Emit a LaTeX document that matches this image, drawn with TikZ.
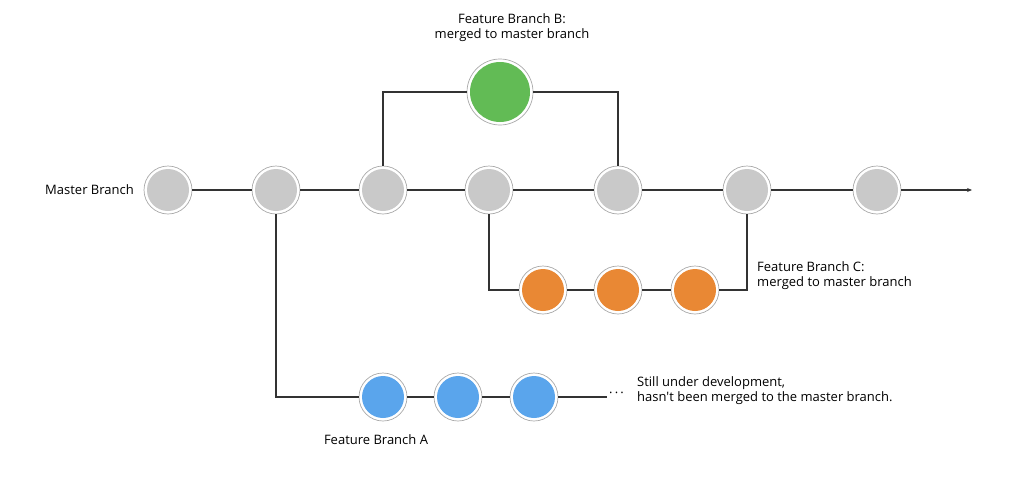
\documentclass[tikz,border=0pt]{standalone}
\usepackage{fontspec}
\setmainfont{Open Sans}
\newfontfamily\osans{Open Sans}
\usetikzlibrary{arrows.meta}
\definecolor{ringgray}{HTML}{A9A9A9}
\definecolor{mgray}{HTML}{C9C9C9}
\definecolor{bgreen}{HTML}{62BB55}
\definecolor{borange}{HTML}{E98834}
\definecolor{bblue}{HTML}{5AA5EC}
\definecolor{linec}{HTML}{333333}
\begin{document}
\begin{tikzpicture}[x=1pt,y=-1pt,
  commit/.style 2 args={circle, minimum size=#2, inner sep=0pt, draw=ringgray, line width=0.7pt, fill=white,
    path picture={\fill[#1] (path picture bounding box.center) circle ({#2/2-3pt});}},
  mc/.style={commit={mgray}{48pt}},
  conn/.style={draw=linec, line width=1.2pt},
  lbl/.style={font=\osans\fontsize{13}{15}\selectfont, inner sep=0pt, align=left}
]
\useasboundingbox (0,0) rectangle (1024,479);
% master
\node[mc] (m1) at (168,190) {};
\node[mc] (m2) at (276,190) {};
\node[mc] (m3) at (383,190) {};
\node[mc] (m4) at (489,190) {};
\node[mc] (m5) at (618,190) {};
\node[mc] (m6) at (747,190) {};
\node[mc] (m7) at (877,190) {};
\coordinate (mend) at (972,190);
% B
\node[commit={bgreen}{66pt}] (g) at (500,92) {};
% C
\node[commit={borange}{48pt}] (o1) at (543,290) {};
\node[commit={borange}{48pt}] (o2) at (618,290) {};
\node[commit={borange}{48pt}] (o3) at (695,290) {};
% A
\node[commit={bblue}{48pt}] (a1) at (383,397) {};
\node[commit={bblue}{48pt}] (a2) at (458,397) {};
\node[commit={bblue}{48pt}] (a3) at (534,397) {};
\coordinate (aend) at (607,397);
\node[lbl, anchor=west] (dots) at (609,395) {\textperiodcentered\,\textperiodcentered\,\textperiodcentered};
% connectors
\draw[conn] (m1) -- (m2);
\draw[conn] (m2) -- (m3);
\draw[conn] (m3) -- (m4);
\draw[conn] (m4) -- (m5);
\draw[conn] (m5) -- (m6);
\draw[conn] (m6) -- (m7);
\draw[conn, -{Stealth[length=5pt,width=4pt]}] (m7) -- (mend);
\draw[conn] (m3) |- (g);
\draw[conn] (g) -| (m5);
\draw[conn] (m4) |- (o1);
\draw[conn] (o1) -- (o2);
\draw[conn] (o2) -- (o3);
\draw[conn] (o3) -| (m6);
\draw[conn] (m2) |- (a1);
\draw[conn] (a1) -- (a2);
\draw[conn] (a2) -- (a3);
\draw[conn] (a3) -- (aend);
% labels
\node[lbl, anchor=east] (tm) at (134,190) {Master Branch};
\node[lbl, align=center] (tb) at (512,28) {Feature Branch B:\\merged to master branch};
\node[lbl, anchor=west] (tc) at (757,276) {Feature Branch C:\\merged to master branch};
\node[lbl, anchor=west] (td) at (637,391) {Still under development,\\hasn't been merged to the master branch.};
\node[lbl] (ta) at (376,440) {Feature Branch A};
\end{tikzpicture}
\end{document}
